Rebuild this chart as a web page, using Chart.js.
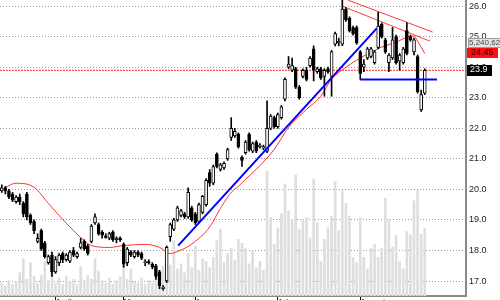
<!DOCTYPE html>
<html><head><meta charset="utf-8">
<script src="https://cdn.jsdelivr.net/npm/chart.js@4/dist/chart.umd.min.js"></script>
<style>html,body{margin:0;padding:0;background:#fff}#wrap{width:500px;height:300px}</style>
</head><body><div id="wrap"><canvas id="c" width="500" height="300"></canvas></div>
<script>
// ---- data ----
const opens  = [19.95,20.05,19.95,19.85,19.6,19.75,19.55,19.85,19.15,18.95,18.3,18.65,18.25,17.6,17.85,17.3,17.6,17.9,17.7,17.65,18.0,17.8,18.1,18.3,18.15,18.3,18.9,18.85,18.6,18.47,18.4,18.6,18.35,18.4,18.2,17.6,17.95,17.8,17.95,17.9,17.6,17.62,17.55,17.5,17.3,16.75,17.0,18.45,18.7,19.0,19.15,19.2,19.1,19.4,19.2,18.95,19.25,19.5,20.55,20.2,21.15,20.65,20.7,21.0,21.7,21.75,21.8,21.05,21.2,21.8,21.25,21.55,21.4,21.35,21.25,22.0,22.35,22.05,22.35,22.95,24.0,23.9,23.95,23.35,23.7,23.9,24.05,24.6,23.85,23.95,23.7,23.95,23.7,24.75,24.8,24.75,25.9,25.6,25.3,25.3,24.5,24.0,24.3,24.35,24.15,24.65,25.4,24.9,24.15,24.3,25.0,24.2,24.15,25.2,25.0,24.5,24.35,22.6,23.15];
const highs  = [20.15,20.1,20.0,19.9,19.8,19.85,19.6,19.9,19.2,19.0,18.55,18.7,18.3,17.85,17.95,17.8,17.9,17.95,17.9,18.0,18.1,17.95,18.4,18.35,18.2,18.85,19.2,18.9,18.65,18.55,18.6,18.65,18.45,18.45,18.25,18.1,18.0,18.0,18.0,17.95,17.7,17.7,17.6,17.55,17.35,16.85,18.15,18.9,19.05,19.45,19.35,19.25,20.05,19.45,19.25,19.55,19.8,20.35,20.65,20.8,21.2,20.85,20.9,21.35,22.35,22.0,21.85,21.1,21.6,21.85,21.55,21.6,21.5,21.45,22.9,22.45,22.4,22.5,22.75,23.65,24.35,24.3,24.0,23.4,23.95,24.0,24.35,24.7,24.0,24.0,23.95,24.0,24.55,25.15,24.95,26.2,25.95,25.65,25.35,25.35,24.55,24.25,24.65,24.65,24.55,25.8,25.45,24.95,24.45,25.3,25.05,24.45,24.65,25.45,25.05,24.95,24.4,23.25,23.95];
const lows   = [19.9,19.85,19.7,19.6,19.55,19.5,19.1,19.0,18.85,18.55,18.25,18.0,17.75,17.55,17.15,17.25,17.5,17.6,17.65,17.6,17.8,17.75,18.05,18.0,17.85,18.25,18.85,18.5,18.4,18.4,18.35,18.3,18.25,18.3,17.45,17.5,17.8,17.75,17.8,17.7,17.5,17.55,17.4,17.05,16.75,16.7,16.95,18.3,18.65,18.95,19.1,19.05,19.05,18.95,18.85,18.9,19.2,19.45,20.1,20.15,20.7,20.6,20.65,20.95,21.6,21.7,21.35,20.75,21.15,21.25,21.2,21.2,21.35,21.3,21.2,21.95,22.0,22.0,22.3,22.9,23.95,23.85,23.3,22.95,23.65,23.55,24.0,23.55,23.8,23.6,23.05,23.8,23.05,24.7,24.7,24.7,25.5,25.15,25.05,24.75,23.6,23.85,24.25,24.3,24.1,24.6,24.95,24.45,23.85,24.25,24.1,23.9,24.1,24.4,24.85,24.4,23.15,22.55,23.1];
const closes = [20.05,19.95,19.75,19.65,19.75,19.6,19.2,19.1,18.9,18.65,18.4,18.05,17.8,17.8,17.3,17.7,17.85,17.7,17.85,17.95,17.85,17.9,18.25,18.05,17.9,18.8,19.1,18.55,18.5,18.43,18.55,18.35,18.4,18.35,17.55,18.05,17.85,17.95,17.85,17.75,17.62,17.6,17.45,17.15,16.85,16.8,18.1,18.85,19.0,19.4,19.3,19.1,19.9,19.0,18.9,19.5,19.77,20.3,20.2,20.75,20.75,20.8,20.85,21.3,22.0,21.9,21.4,20.95,21.55,21.3,21.5,21.25,21.45,21.4,22.0,22.4,22.05,22.45,22.7,23.6,24.1,24.05,23.35,23.0,23.9,23.6,24.3,23.9,23.95,23.65,23.9,23.85,24.5,25.1,24.85,25.9,25.55,25.2,25.1,24.8,23.8,24.1,24.6,24.6,24.5,25.35,25.0,24.5,24.4,24.9,24.15,24.4,24.6,24.45,24.9,24.9,23.2,23.1,23.9];
const volumes = [1000000,800000,1200000,900000,1100000,1800000,2900000,1300000,2600000,1500000,1000000,1600000,2700000,1200000,2700000,1000000,1400000,900000,1500000,1100000,1300000,900000,2300000,1200000,1600000,1300000,2900000,1900000,1200000,1000000,1400000,900000,1200000,1500000,2700000,1300000,2100000,1100000,1000000,1400000,900000,1200000,1000000,1600000,2000000,2300000,3400000,2400000,4300000,2100000,2500000,1800000,3300000,2200000,3900000,2000000,2900000,2700000,2200000,3000000,4300000,5200000,2600000,3300000,3700000,2800000,4400000,4100000,3700000,2500000,3500000,2200000,2700000,2000000,9700000,6100000,4000000,5300000,6400000,8700000,6600000,5900000,9400000,5200000,5900000,6100000,4500000,9100000,5700000,2700000,4400000,5300000,6200000,8900000,5100000,8200000,7200000,6200000,3000000,2600000,6100000,3000000,2100000,3700000,4000000,3000000,3700000,7600000,5900000,3800000,4700000,2700000,2100000,5000000,4750000,7400000,8200000,4800000,5240620];
// moving-average line, read at these candle positions
const maIdx  = [0,4,9,13,18,22,25,30,34,40,44,47,49,52,54,57,59,60,62,64,66,68,71,76,80,85,89,92,96,99,102,106,110,113,115,116,118];
const maVals = [20.0,20.2,20.07,19.54,18.89,18.43,18.16,18.1,18.16,18.2,18.1,17.9,17.97,18.13,18.3,18.62,18.95,19.18,19.57,19.9,20.1,20.33,20.66,21.31,22.03,22.62,23.05,23.61,24.0,24.23,24.43,24.66,24.82,24.98,25.02,24.85,24.45];
// trend lines drawn on the chart
const trendUpX = [49.2,104.6],  trendUpY = [18.16,25.27];
const supportX = [100,121.4],   supportY = [23.6,23.6];
const resHiX   = [96.5,120.2],  resHiY   = [26.2,25.15];
const resLoX   = [95,119.5],    resLoY   = [26.0,24.85];
// axes
const monthNames = ["April","May","June","July","August"];
const monthIdx   = [15,34,54,77,100];
const priceTicks = [17,18,19,20,21,22,23,24,25,26];
const slots = 130;

const pts = (xs, ys) => xs.map((x,k)=>({x, y: ys[k]}));
const idx = closes.map((_,i)=>i);
const lastClose = closes[closes.length-1];
const fmtInt = n => String(Math.round(n)).replace(/\B(?=(\d{3})+(?!\d))/g, ',');

const tagPlugin = {
  id: 'tags',
  afterDraw(chart) {
    const {ctx, chartArea} = chart;
    const ys = chart.scales.y;
    const x0 = chartArea.right;
    const yMa = ys.getPixelForValue(maVals[maVals.length-1]);
    const yC = ys.getPixelForValue(lastClose);
    ctx.save();
    ctx.textBaseline = 'middle';
    ctx.textAlign = 'left';
    // volume tag
    ctx.font = '8px "Liberation Sans", Arial, sans-serif';
    ctx.fillStyle = '#e4e4e4'; ctx.fillRect(x0+2, Math.round(yMa-15), 34, 10);
    ctx.strokeStyle = '#9a9a9a'; ctx.lineWidth = 1; ctx.strokeRect(x0+2.5, Math.round(yMa-15)+0.5, 34, 9);
    ctx.fillStyle = '#444'; ctx.fillText(fmtInt(volumes[volumes.length-1]), x0+3, Math.round(yMa-10));
    // MA tag
    ctx.font = '9px "Liberation Sans", Arial, sans-serif';
    ctx.fillStyle = '#ff1010'; ctx.fillRect(x0+1, Math.round(yMa-5), 31, 10);
    ctx.fillStyle = '#200000'; ctx.fillText(maVals[maVals.length-1].toFixed(2), x0+5, Math.round(yMa));
    // close tag
    ctx.fillStyle = '#000'; ctx.fillRect(x0+1, Math.round(yC-5.5), 25, 11);
    ctx.fillStyle = '#fff'; ctx.fillText(lastClose.toFixed(1), x0+4, Math.round(yC));
    ctx.restore();
  }
};

new Chart(document.getElementById('c'), {
  data: {
    datasets: [
      { type:'bar', data: idx.map(i=>({x:i, y:volumes[i]})), yAxisID:'yv', backgroundColor:'#dedede', barThickness:2, grouped:false, order:20 },
      { type:'line', data: [{x:-0.5,y:lastClose},{x:slots-0.5,y:lastClose}], borderColor:'#ff2020', borderWidth:1, borderDash:[2,1], pointRadius:0, order:15 },
      { type:'line', data: pts(maIdx, maVals), borderColor:'#ff3030', borderWidth:1, pointRadius:0, cubicInterpolationMode:'monotone', order:10 },
      { type:'line', data: pts(resHiX, resHiY), borderColor:'#ff3a3a', borderWidth:1, pointRadius:0, order:9 },
      { type:'line', data: pts(resLoX, resLoY), borderColor:'#ff3a3a', borderWidth:1, pointRadius:0, order:9 },
      { type:'bar', data: idx.map(i=>({x:i, y:[lows[i], highs[i]]})), backgroundColor:'#000', barThickness:1, grouped:false, order:3 },
      { type:'bar', data: idx.map(i=>({x:i, y:[opens[i], closes[i]]})),
        backgroundColor: idx.map(i=> closes[i] >= opens[i] ? '#ffffff' : '#000000'),
        borderColor:'#000', borderWidth:1, borderSkipped:false, minBarLength:1, barThickness:3, grouped:false, order:2 },
      { type:'line', data: pts(trendUpX, trendUpY), borderColor:'#0000ff', borderWidth:2, pointRadius:0, order:1 },
      { type:'line', data: pts(supportX, supportY), borderColor:'#0000ff', borderWidth:2, pointRadius:0, order:1 }
    ]
  },
  options: {
    responsive:false, animation:false, devicePixelRatio:1,
    layout:{ padding:0 },
    plugins:{ legend:{display:false}, tooltip:{enabled:false} },
    scales:{
      x:{ type:'linear', position:'bottom', min:-0.5, max:slots-0.5, offset:false,
          afterBuildTicks(s){ s.ticks = monthIdx.map(v=>({value:v})); },
          afterFit(s){ s.height = 4; s.paddingLeft = 0; s.paddingRight = 0; },
          ticks:{ autoSkip:false, maxRotation:0, align:'start', padding:-3, color:'#000',
                  font:{family:'"Liberation Sans", Arial, sans-serif', size:8},
                  callback:(v,i)=>monthNames[i] },
          grid:{ drawOnChartArea:false, tickLength:4, color:'#000', offset:false },
          border:{ color:'#8a8a8a', width:2 } },
      y:{ type:'linear', position:'right', min:16.51, max:26.2,
          afterBuildTicks(s){ s.ticks = priceTicks.map(v=>({value:v})); },
          afterFit(s){ s.width = 34; s.paddingTop = 0; s.paddingBottom = 0; },
          ticks:{ padding:3, color:'#222', callback:v=>Number(v).toFixed(1),
                  font:{family:'"Liberation Sans", Arial, sans-serif', size:9} },
          grid:{ color:'#9a9a9a', drawTicks:false, lineWidth:1 },
          border:{ color:'#8a8a8a', width:2, dash:[1,2] } },
      yv:{ type:'linear', display:false, min:0, max:23000000 }
    }
  },
  plugins:[tagPlugin]
});
</script>
</body></html>
